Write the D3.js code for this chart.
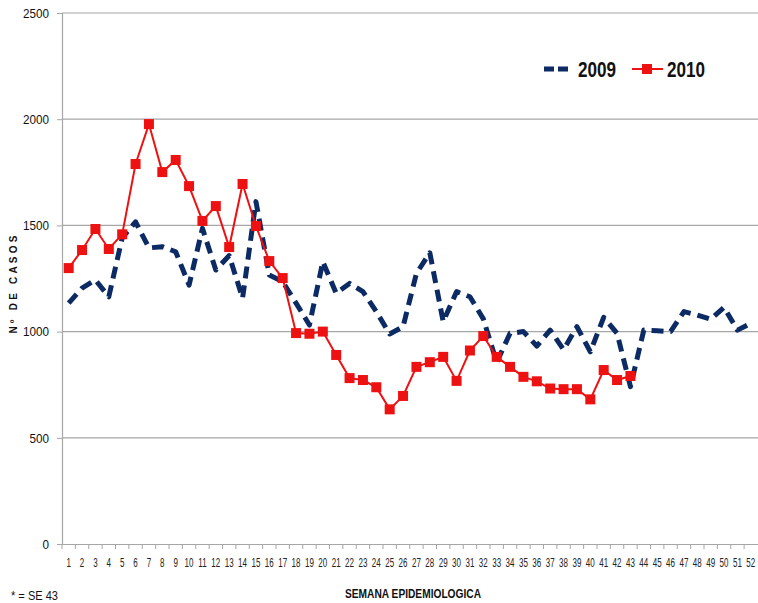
<!DOCTYPE html>
<html><head><meta charset="utf-8">
<script src="https://cdn.jsdelivr.net/npm/d3@7"></script>
<style>
body{margin:0;background:#fff;}
svg{display:block;}
</style></head>
<body>
<svg id="chart" width="758" height="603"></svg>
<script>
const weeks = d3.range(1, 53);
const series2009 = [1134,1205,1243,1164,1441,1517,1394,1400,1376,1219,1486,1290,1358,1157,1612,1266,1235,1134,1031,1329,1180,1227,1188,1094,989,1023,1274,1371,1047,1188,1164,1060,855,992,1000,932,1007,915,1023,905,1067,992,741,1007,1004,1000,1094,1078,1058,1114,1007,1039];
const series2010 = [1299,1384,1483,1389,1458,1789,1977,1751,1808,1685,1521,1591,1398,1695,1497,1332,1252,993,990,1000,890,781,772,738,634,697,834,856,881,768,911,979,881,834,787,766,732,729,729,681,819,772,791];
const yTicks = [0,500,1000,1500,2000,2500];
const seriesNames = ["2009","2010"];
const colors = {"2009":"#0c2a63","2010":"#ee1111"};

(function(){
const svg = d3.select("#chart");
const mLeft = 62, mRight = 757.5, mTop = 13, mBottom = 544;
const FONT = "'Liberation Sans','Arial',sans-serif";

const x = d3.scaleBand().domain(weeks).range([mLeft, mRight]).padding(0);
const y = d3.scaleLinear().domain([0, 2500]).range([mBottom, mTop]);
const cx = d => x(d) + x.bandwidth()/2;

// gridlines
svg.append("g").selectAll("line").data(yTicks.filter(t=>t>0)).join("line")
  .attr("x1", mLeft).attr("x2", 758).attr("y1", d=>y(d)).attr("y2", d=>y(d))
  .attr("stroke", "#a6a6a6").attr("stroke-width", 1.2);

// y axis
const yAxis = svg.append("g").attr("transform", `translate(${mLeft},0)`)
  .call(d3.axisLeft(y).tickValues(yTicks).tickFormat(d3.format("d")).tickSize(5).tickPadding(8));
yAxis.select(".domain").attr("stroke", "#a6a6a6").attr("stroke-width", 1.2);
yAxis.selectAll(".tick line").attr("stroke", "#a6a6a6");
yAxis.selectAll("text").attr("font-family", FONT)
  .attr("font-size", 13.5).attr("fill", "#111")
  .attr("textLength", d => String(d).length * 6.5).attr("lengthAdjust","spacingAndGlyphs");

// x axis
const xAxis = svg.append("g").attr("transform", `translate(0,${mBottom})`)
  .call(d3.axisBottom(x).tickSize(0).tickPadding(14));
xAxis.select(".domain").attr("stroke", "#a6a6a6").attr("stroke-width", 1.2);
xAxis.selectAll("text").attr("font-family", FONT)
  .attr("font-size", 12.5).attr("fill", "#222")
  .attr("transform", "scale(0.64,1)");
svg.append("g").selectAll("line").data(weeks).join("line")
  .attr("x1", d=>x(d)).attr("x2", d=>x(d)).attr("y1", mBottom).attr("y2", mBottom+5)
  .attr("stroke", "#a6a6a6");

// lines
const line = d3.line().x((d,i)=>cx(weeks[i])).y(d=>y(d));
svg.append("path").datum(series2009).attr("d", line)
  .attr("fill","none").attr("stroke", colors["2009"]).attr("stroke-width", 5)
  .attr("stroke-dasharray", "12,7").attr("stroke-linejoin","round");

svg.append("path").datum(series2010).attr("d", line)
  .attr("fill","none").attr("stroke", colors["2010"]).attr("stroke-width", 2);
svg.append("g").selectAll("rect").data(series2010).join("rect")
  .attr("x", (d,i)=>cx(weeks[i])-5).attr("y", d=>y(d)-5)
  .attr("width", 10).attr("height", 10).attr("fill", colors["2010"]);

// legend
const lg = svg.append("g");
lg.append("line").attr("x1",544).attr("x2",572).attr("y1",69).attr("y2",69)
  .attr("stroke", colors["2009"]).attr("stroke-width",5).attr("stroke-dasharray","10,4");
lg.append("text").attr("x",578).attr("y",77).text(seriesNames[0])
  .attr("font-family",FONT).attr("font-weight","bold").attr("font-size",22).attr("fill","#111")
  .attr("textLength",38).attr("lengthAdjust","spacingAndGlyphs");
lg.append("line").attr("x1",632).attr("x2",663).attr("y1",69).attr("y2",69)
  .attr("stroke", colors["2010"]).attr("stroke-width",2);
lg.append("rect").attr("x",642).attr("y",64).attr("width",10).attr("height",10).attr("fill",colors["2010"]);
lg.append("text").attr("x",667).attr("y",77).text(seriesNames[1])
  .attr("font-family",FONT).attr("font-weight","bold").attr("font-size",22).attr("fill","#111")
  .attr("textLength",38).attr("lengthAdjust","spacingAndGlyphs");

// titles
svg.append("text").attr("transform","translate(17,283) rotate(-90)").attr("text-anchor","middle")
  .attr("font-family",FONT).attr("font-weight","bold").attr("font-size",10)
  .attr("letter-spacing","3.2").attr("fill","#111").text("Nº DE CASOS");
svg.append("text").attr("x",345).attr("y",598)
  .attr("font-family",FONT).attr("font-weight","bold").attr("font-size",12)
  .attr("fill","#111").attr("textLength",136).attr("lengthAdjust","spacingAndGlyphs")
  .text("SEMANA EPIDEMIOLOGICA");
svg.append("text").attr("x",11).attr("y",600)
  .attr("font-family",FONT).attr("font-size",12)
  .attr("fill","#111").attr("textLength",47).attr("lengthAdjust","spacingAndGlyphs").text("* = SE 43");
})();
</script>
</body></html>
